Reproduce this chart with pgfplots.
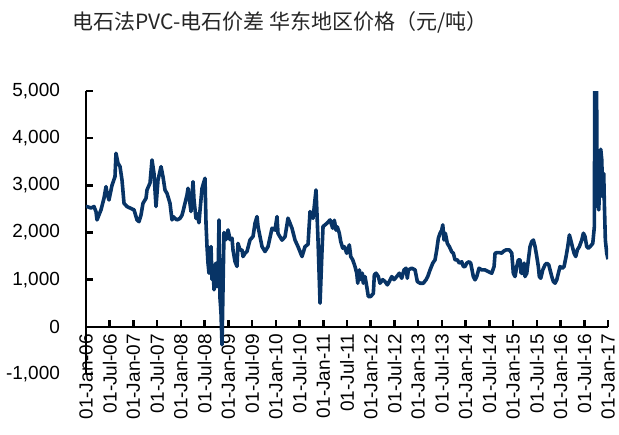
\documentclass[border=0pt]{standalone}
\usepackage{fontspec}
\setmainfont{Liberation Sans}
\newfontfamily\cjk{Noto Sans CJK SC}
\usepackage{pgfplots}
\pgfplotsset{compat=1.18}
\definecolor{navy}{RGB}{8,52,102}

\begin{document}
\begin{tikzpicture}
\begin{axis}[
    at={(0,0)}, anchor=south west,
    scale only axis, width=261pt, height=141.5pt,
    xmin=2006, xmax=2017, ymin=-1000, ymax=5000,
    axis x line*=middle, axis y line*=left,
    hide obscured x ticks=false, hide obscured y ticks=false,
    axis line style={line width=1.3pt, black},
    xtick={2006,2006.5,2007,2007.5,2008,2008.5,2009,2009.5,2010,2010.5,2011,2011.5,2012,2012.5,2013,2013.5,2014,2014.5,2015,2015.5,2016,2016.5,2017},
    xticklabels={01-Jan-06,01-Jul-06,01-Jan-07,01-Jul-07,01-Jan-08,01-Jul-08,01-Jan-09,01-Jul-09,01-Jan-10,01-Jul-10,01-Jan-11,01-Jul-11,01-Jan-12,01-Jul-12,01-Jan-13,01-Jul-13,01-Jan-14,01-Jul-14,01-Jan-15,01-Jul-15,01-Jan-16,01-Jul-16,01-Jan-17},
    ytick={-1000,0,1000,2000,3000,4000,5000},
    tick align=inside,
    major tick length=3.3pt,
    tick style={line width=1.3pt, black},
    x tick label style={rotate=90, anchor=east, font=\fontsize{9.5}{10}\selectfont},
    y tick label style={font=\fontsize{9.5}{10}\selectfont, xshift=-9.5pt},
    /pgf/number format/1000 sep={,},
    /pgf/number format/assume math mode=true,
]
\addplot[navy, line width=1.8pt, line join=round] coordinates {
(2006.000,2550) (2006.021,2550) (2006.105,2520) (2006.169,2550) (2006.211,2440)
(2006.232,2267) (2006.316,2480) (2006.379,2726) (2006.422,2973) (2006.443,2830)
(2006.485,2690) (2006.527,2900) (2006.548,3000) (2006.611,3185) (2006.632,3680)
(2006.674,3470) (2006.717,3397) (2006.759,3110) (2006.801,2620) (2006.864,2550)
(2006.948,2510) (2007.012,2480) (2007.075,2267) (2007.117,2230) (2007.159,2370)
(2007.201,2620) (2007.265,2726) (2007.286,2903) (2007.349,3050) (2007.391,3539)
(2007.433,3250) (2007.475,2550) (2007.517,3110) (2007.581,3397) (2007.623,3180)
(2007.665,2900) (2007.707,2830) (2007.770,2620) (2007.812,2267) (2007.834,2338)
(2007.876,2298) (2007.918,2267) (2007.981,2300) (2008.023,2368) (2008.044,2444)
(2008.086,2620) (2008.129,2797) (2008.150,2938) (2008.213,2444) (2008.255,3079)
(2008.276,2690) (2008.318,2300) (2008.339,2400) (2008.381,2206) (2008.403,2475)
(2008.445,2938) (2008.508,3150) (2008.529,2190) (2008.550,1702) (2008.571,1350)
(2008.592,1137) (2008.613,1600) (2008.634,1702) (2008.656,1000) (2008.677,1270)
(2008.698,784) (2008.719,1300) (2008.740,1350) (2008.761,850) (2008.782,1000)
(2008.803,2267) (2008.824,600) (2008.845,300) (2008.866,-380) (2008.887,800)
(2008.908,2000) (2008.951,1850) (2008.993,2055) (2009.035,1850) (2009.077,1880)
(2009.098,1630) (2009.140,1384) (2009.182,1280) (2009.203,1770) (2009.246,1630)
(2009.288,1630) (2009.309,1490) (2009.351,1560) (2009.393,1600) (2009.456,1843)
(2009.520,1915) (2009.562,2197) (2009.604,2338) (2009.625,2126) (2009.709,1702)
(2009.772,1596) (2009.836,1702) (2009.920,2090) (2009.983,2050) (2010.025,2338)
(2010.046,1980) (2010.131,1838) (2010.194,1910) (2010.257,2303) (2010.341,2090)
(2010.405,1838) (2010.468,1700) (2010.552,1490) (2010.615,1700) (2010.679,1750)
(2010.721,2444) (2010.784,2300) (2010.847,2903) (2010.889,1850) (2010.932,501)
(2010.974,1630) (2010.995,2126) (2011.079,2197) (2011.142,2267) (2011.199,2090)
(2011.233,2260) (2011.269,2050) (2011.296,2120) (2011.338,1985) (2011.368,1808)
(2011.410,1667) (2011.444,1700) (2011.494,1560) (2011.549,1737) (2011.579,1490)
(2011.621,1420) (2011.669,1278) (2011.705,1137) (2011.726,925) (2011.760,1207)
(2011.796,1000) (2011.823,1137) (2011.844,925) (2011.880,1066) (2011.916,855)
(2011.949,643) (2012.000,643) (2012.055,710) (2012.076,1100) (2012.112,1137)
(2012.160,1066) (2012.196,925) (2012.253,1000) (2012.301,960) (2012.350,890)
(2012.392,960) (2012.443,1066) (2012.491,1000) (2012.548,1066) (2012.603,1137)
(2012.653,1030) (2012.702,1207) (2012.744,1243) (2012.771,1030) (2012.793,1207)
(2012.864,1243) (2012.934,1207) (2012.982,960) (2013.039,925) (2013.109,925)
(2013.166,1000) (2013.201,1066) (2013.250,1207) (2013.307,1350) (2013.355,1420)
(2013.391,1632) (2013.425,1879) (2013.461,1985) (2013.496,2050) (2013.518,2161)
(2013.545,1840) (2013.572,1985) (2013.614,1770) (2013.657,1700) (2013.707,1590)
(2013.741,1560) (2013.777,1420) (2013.825,1420) (2013.867,1350) (2013.918,1380)
(2013.952,1278) (2013.987,1278) (2014.023,1350) (2014.072,1380) (2014.107,1350)
(2014.135,1207) (2014.162,1066) (2014.198,996) (2014.234,1066) (2014.282,1243)
(2014.339,1207) (2014.409,1207) (2014.479,1170) (2014.550,1137) (2014.599,1278)
(2014.620,1561) (2014.668,1575) (2014.710,1575) (2014.761,1561) (2014.795,1600)
(2014.852,1632) (2014.921,1632) (2014.972,1561) (2015.005,1137) (2015.041,1066)
(2015.077,1278) (2015.111,1420) (2015.147,1420) (2015.168,1137) (2015.203,1137)
(2015.231,1350) (2015.252,1066) (2015.288,1137) (2015.322,1420) (2015.357,1700)
(2015.393,1808) (2015.427,1840) (2015.463,1700) (2015.499,1490) (2015.532,1278)
(2015.553,1066) (2015.583,1030) (2015.625,1207) (2015.673,1315) (2015.709,1350)
(2015.751,1315) (2015.779,1207) (2015.815,1066) (2015.848,960) (2015.884,925)
(2015.920,996) (2015.954,1137) (2015.990,1278) (2016.038,1243) (2016.074,1278)
(2016.116,1490) (2016.152,1700) (2016.186,1949) (2016.215,1840) (2016.257,1667)
(2016.285,1560) (2016.320,1490) (2016.354,1632) (2016.396,1700) (2016.447,1840)
(2016.481,1985) (2016.516,1914) (2016.552,1700) (2016.586,1667) (2016.622,1700)
(2016.679,1770) (2016.712,2120) (2016.721,5000) (2016.732,3500) (2016.742,5000)
(2016.752,3300) (2016.760,5000) (2016.770,2550) (2016.784,2830) (2016.805,2479)
(2016.826,3050) (2016.847,3765) (2016.868,3550) (2016.889,2755) (2016.910,3250)
(2016.923,2620) (2016.944,1840) (2016.973,1560) (2017.000,1434)
};
\end{axis}
\pgfresetboundingbox
\path[use as bounding box] (-43pt,-30pt) rectangle (266.5pt,187pt);
\node[font=\cjk\fontsize{10.5}{12}\selectfont, text=black!85] at (97pt,176pt) {电石法PVC-电石价差 华东地区价格（元/吨）};
\end{tikzpicture}
\end{document}
